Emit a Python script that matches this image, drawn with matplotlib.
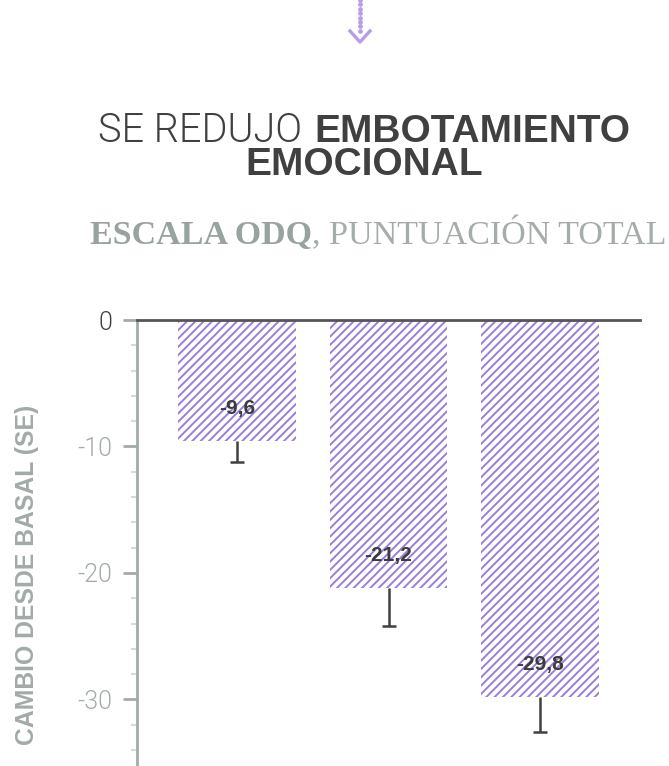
import numpy as np
import matplotlib.pyplot as plt
from matplotlib.lines import Line2D

# Data
grupos = ["A", "B", "C"]
cambio = [-9.6, -21.2, -29.8]
se = [1.6, 3.0, 2.8]
etiquetas = ["-9,6", "-21,2", "-29,8"]
yticks = [0, -10, -20, -30]

purple = "#9a7ed8"
grey = "#a2aba8"
dark = "#404040"

W, H = 669, 766
fig = plt.figure(figsize=(W / 100, H / 100), dpi=100)
fig.patch.set_facecolor("white")
renderer = fig.canvas.get_renderer()


def fit(t, width_px):
    # scale font so the text is width_px wide
    w = t.get_window_extent(renderer).width
    t.set_fontsize(t.get_fontsize() * width_px / w)
    return t.get_window_extent(renderer).width


# arrow at top
dots_y = np.arange(766, 732, -4.4)
fig.add_artist(Line2D([360 / W] * len(dots_y), 1 - (766 - dots_y) / H,
                      ls="none", marker="o", ms=2.4, color="#b89de6",
                      transform=fig.transFigure))
fig.add_artist(Line2D([350 / W, 360 / W, 370 / W], [1 - 31 / H, 1 - 42 / H, 1 - 31 / H],
                      color="#b89de6", lw=2.4, transform=fig.transFigure))

# title, mixed weight
t1 = fig.text(0, 1 - 142 / H, "SE REDUJO", fontsize=28, family="Roboto",
              weight=300, color=dark)
t2 = fig.text(0, 1 - 142 / H, "EMBOTAMIENTO", fontsize=28, family="Liberation Sans",
              weight="bold", color=dark)
w1 = fit(t1, 204)
w2 = fit(t2, 316)
gap = 12
x0 = 364 - (w1 + gap + w2) / 2
t1.set_x(x0 / W)
t2.set_x((x0 + w1 + gap) / W)
fig.text(364 / W, 1 - 175 / H, "EMOCIONAL", fontsize=t2.get_fontsize(),
         family="Liberation Sans", weight="bold", color=dark, ha="center")

# subtitle
s1 = fig.text(0, 1 - 244 / H, "ESCALA ODQ", fontsize=24.5, family="Liberation Serif",
              weight="bold", color="#98a29f")
s2 = fig.text(0, 1 - 244 / H, ", PUNTUACIÓN TOTAL", fontsize=24.5,
              family="Liberation Serif", color="#a4adaa")
v1 = s1.get_window_extent(renderer).width
v2 = s2.get_window_extent(renderer).width
x0 = 378 - (v1 + v2) / 2
s1.set_x(x0 / W)
s2.set_x((x0 + v1) / W)

# axes
ax = fig.add_axes([137 / W, 0, (640 - 137) / W, (H - 320) / H])
x = np.arange(len(grupos))
plt.rcParams["hatch.linewidth"] = 1.4
ax.bar(x, cambio, width=0.776, facecolor="white", edgecolor=purple,
       linewidth=0, hatch="////", zorder=1)
for xi, v, e, lab in zip(x, cambio, se, etiquetas):
    ax.vlines(xi, v, v - e, color=dark, lw=1.8, zorder=3)
    ax.plot(xi, v - e, marker="_", ms=10, mew=1.8, color=dark, zorder=3)
    ax.text(xi, v + 2.6, lab, ha="center", va="center", fontsize=15,
            family="Liberation Sans", weight="bold", color="#3c3c3c", zorder=4)

ax.set_xlim(-0.658, 2.658)
ax.set_ylim(-35.26, 0)
for s in ["right", "bottom"]:
    ax.spines[s].set_visible(False)
ax.spines["top"].set_color("#555555")
ax.spines["top"].set_linewidth(2)
ax.spines["top"].set_zorder(5)
ax.spines["left"].set_color(grey)
ax.spines["left"].set_linewidth(2)
ax.set_xticks([])
ax.set_yticks(yticks)
ax.set_yticklabels(["0", "-10", "-20", "-30"])
ax.set_yticks(np.arange(-34, 0, 2), minor=True)
ax.tick_params(axis="y", which="major", length=10, width=2, color=grey,
               labelsize=18, labelcolor=grey, pad=8)
ax.tick_params(axis="y", which="minor", length=4, width=1.5, color="#d6dbd9")
for lab in ax.get_yticklabels():
    lab.set_family("Roboto")
    lab.set_weight(300)
ax.get_yticklabels()[0].set_color(dark)
ax.yaxis.get_major_ticks()[0].tick1line.set_color("#555555")

fig.text(27 / W, 1 - 575 / H, "CAMBIO DESDE BASAL (SE)", rotation=90,
         fontsize=17.8, family="Liberation Sans", weight="bold", color=grey,
         ha="center", va="center")

fig.savefig("out.png", dpi=100)
